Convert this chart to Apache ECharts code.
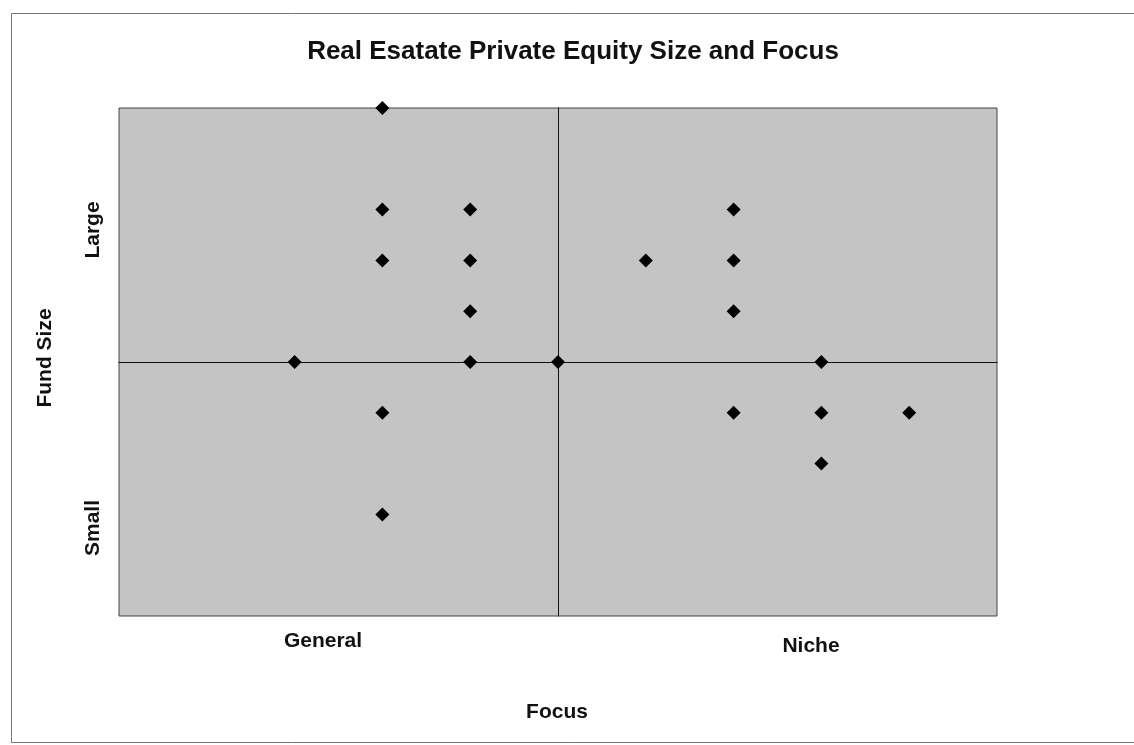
<!DOCTYPE html>
<html>
<head>
<meta charset="utf-8">
<script src="https://cdn.jsdelivr.net/npm/echarts@6/dist/echarts.min.js"></script>
<style>
html,body{margin:0;padding:0;background:#fff;}
#chart{width:1134px;height:745px;}
</style>
</head>
<body>
<div id="chart"></div>
<script>
// Data (focus: negative = General, positive = Niche; size: negative = Small, positive = Large)
var titleText = 'Real Esatate Private Equity Size and Focus';
var focusValues = [-2, -2, -1, 2, -2, -1, 1, 2, -1, 2, -3, -1, 0, 3, -2, 2, 3, 4, 3, -2];
var sizeValues  = [ 5,  3,  3, 3,  2,  2, 2, 2,  1, 1,  0,  0, 0, 0, -1, -1, -1, -1, -2, -3];
var xCategoryLabels = ['General', 'Niche'];
var yCategoryLabels = ['Small', 'Large'];
var xAxisTitle = 'Focus';
var yAxisTitle = 'Fund Size';

var points = focusValues.map(function (v, i) { return [v, sizeValues[i]]; });

var chart = echarts.init(document.getElementById('chart'));
var FONT = '"Liberation Sans", Arial, sans-serif';
var labelStyle = { fontFamily: FONT, fontWeight: 'bold', fontSize: 21, fill: '#111' };

chart.setOption({
  backgroundColor: '#fff',
  animation: false,
  title: {
    text: titleText,
    left: 568, top: 34, textAlign: 'center',
    textStyle: { fontFamily: FONT, fontWeight: 'bold', fontSize: 26, color: '#111' }
  },
  grid: {
    left: 119, top: 108, width: 878, height: 508,
    show: true, backgroundColor: '#c4c4c4', borderColor: '#444', borderWidth: 1
  },
  xAxis: {
    type: 'value', min: -5, max: 5,
    axisLine: { onZero: true, lineStyle: { color: '#111', width: 1 } },
    axisTick: { show: false }, axisLabel: { show: false }, splitLine: { show: false }
  },
  yAxis: {
    type: 'value', min: -5, max: 5,
    axisLine: { onZero: true, lineStyle: { color: '#111', width: 1 } },
    axisTick: { show: false }, axisLabel: { show: false }, splitLine: { show: false }
  },
  series: [{
    type: 'scatter',
    data: points,
    symbol: 'diamond',
    symbolSize: 14,
    clip: false,
    itemStyle: { color: '#000', opacity: 1 }
  }],
  graphic: [
    { type: 'rect', shape: { x: 11.5, y: 13.5, width: 1130, height: 729 },
      style: { fill: 'none', stroke: '#777', lineWidth: 1 }, z: -1 },
    { type: 'text', x: 323, y: 641, style: Object.assign({ text: xCategoryLabels[0], align: 'center', verticalAlign: 'middle' }, labelStyle) },
    { type: 'text', x: 811, y: 646, style: Object.assign({ text: xCategoryLabels[1], align: 'center', verticalAlign: 'middle' }, labelStyle) },
    { type: 'text', x: 557, y: 712, style: Object.assign({ text: xAxisTitle, align: 'center', verticalAlign: 'middle' }, labelStyle) },
    { type: 'text', x: 93, y: 528, rotation: Math.PI / 2, style: Object.assign({ text: yCategoryLabels[0], align: 'center', verticalAlign: 'middle' }, labelStyle) },
    { type: 'text', x: 93, y: 230, rotation: Math.PI / 2, style: Object.assign({ text: yCategoryLabels[1], align: 'center', verticalAlign: 'middle' }, labelStyle) },
    { type: 'text', x: 45, y: 358, rotation: Math.PI / 2, style: Object.assign({ text: yAxisTitle, align: 'center', verticalAlign: 'middle' }, labelStyle) }
  ]
});
</script>
</body>
</html>
